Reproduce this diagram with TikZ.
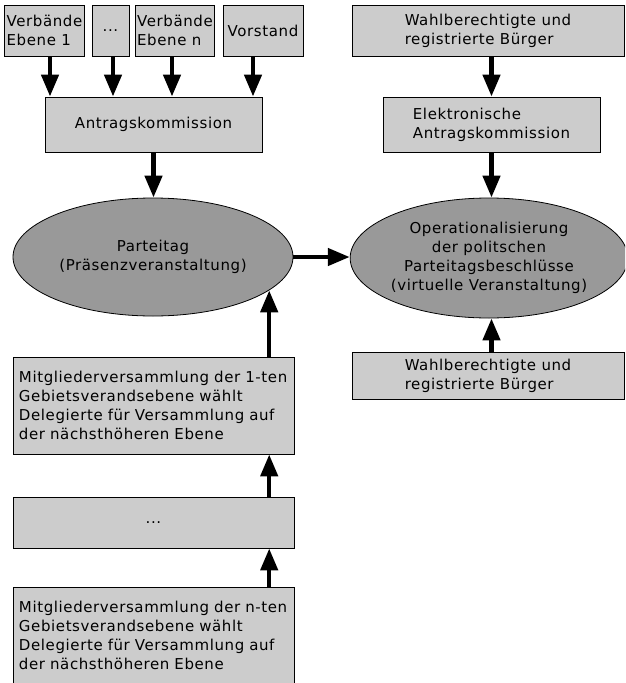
\documentclass[tikz,border=0pt]{standalone}
\usepackage{fontspec}
\setmainfont{DejaVu Sans}[LetterSpace=4]
\usepackage{tikz}
\usetikzlibrary{shapes.geometric,arrows.meta,positioning}
\usepackage{xcolor}
\definecolor{boxgray}{RGB}{204,204,204}
\definecolor{ellgray}{RGB}{153,153,153}

\begin{document}
\begin{tikzpicture}[x=1pt,y=-1pt,
        box/.style={draw,line width=0.8pt,fill=boxgray,inner sep=2pt,align=left,font=\fontsize{15}{19}\selectfont},
        ell/.style={ellipse,draw,line width=0.8pt,fill=ellgray,inner sep=0pt,align=center,font=\fontsize{15}{19}\selectfont},
        mbox/.style={box,inner xsep=6pt,text width=269pt,minimum height=97pt},
        arr/.style={line width=4.5pt,-{Triangle[width=17pt,length=22pt]}}
      ]
        \useasboundingbox (0,0) rectangle (625,683);
        \clip (0,0) rectangle (625,683);
        % linke Seite
        \node[box,minimum width=79pt,minimum height=51pt] (v1) at (44.5,30.5) {Verbände\\Ebene 1};
        \node[box,minimum width=37pt,minimum height=51pt] (vd) at (110.5,30.5) {...};
        \node[box,minimum width=74pt,minimum height=51pt] (vn) at (175,30.5) {Verbände\\Ebene n};
        \node[box,minimum width=80pt,minimum height=51pt] (vs) at (263,30.5) {Vorstand};
        \node[box,minimum width=217pt,minimum height=55pt] (ak) at (153.5,124.5) {Antragskommission};
        \node[ell,minimum width=280pt,minimum height=118pt] (pt) at (153,257) {Parteitag\\(Präsenzveranstaltung)};
        \node[mbox] (m1) at (153.5,405.5) {Mitgliederversammlung der 1-ten\\Gebietsverandsebene wählt\\Delegierte für Versammlung auf\\der nächsthöheren Ebene};
        \node[box,minimum width=281pt,minimum height=51pt,align=center] (md) at (153.5,522.5) {...};
        \node[mbox] (mn) at (153.5,635.5) {Mitgliederversammlung der n-ten\\Gebietsverandsebene wählt\\Delegierte für Versammlung auf\\der nächsthöheren Ebene};
        % rechte Seite
        \node[box,minimum width=272pt,minimum height=51pt] (wb1) at (488,30.5) {Wahlberechtigte und\\registrierte Bürger};
        \node[box,minimum width=217pt,minimum height=55pt] (eak) at (491.5,124.5) {Elektronische\\Antragskommission};
        \node[ell,minimum width=272pt,minimum height=120pt] (op) at (489,258) {Operationalisierung\\der politschen\\Parteitagsbeschlüsse\\(virtuelle Veranstaltung)};
        \node[box,minimum width=272pt,minimum height=47pt] (wb2) at (488,375.5) {Wahlberechtigte und\\registrierte Bürger};
        % Pfeile
        \draw[arr] ([xshift=5.5pt]v1.south) -- ([xshift=5.5pt]v1.south |- ak.north);
        \draw[arr] ([xshift=2.5pt]vd.south) -- ([xshift=2.5pt]vd.south |- ak.north);
        \draw[arr] ([xshift=-3pt]vn.south) -- ([xshift=-3pt]vn.south |- ak.north);
        \draw[arr] ([xshift=-10pt]vs.south) -- ([xshift=-10pt]vs.south |- ak.north);
        \draw[arr] (ak.south) -- (ak.south |- pt.north);
        \draw[arr] (pt.east) -- (pt.east -| op.west);
        \draw[arr] (m1.north -| pt.-16) -- (pt.-16);
        \draw[arr] (md.north -| pt.-16) -- (m1.south -| pt.-16);
        \draw[arr] (mn.north -| pt.-16) -- (md.south -| pt.-16);
        \draw[arr] (wb1.south -| eak.north) -- (eak.north);
        \draw[arr] (eak.south) -- (eak.south |- op.north);
        \draw[arr] (wb2.north -| eak.south) -- (op.south -| eak.south);
      \end{tikzpicture}
\end{document}
